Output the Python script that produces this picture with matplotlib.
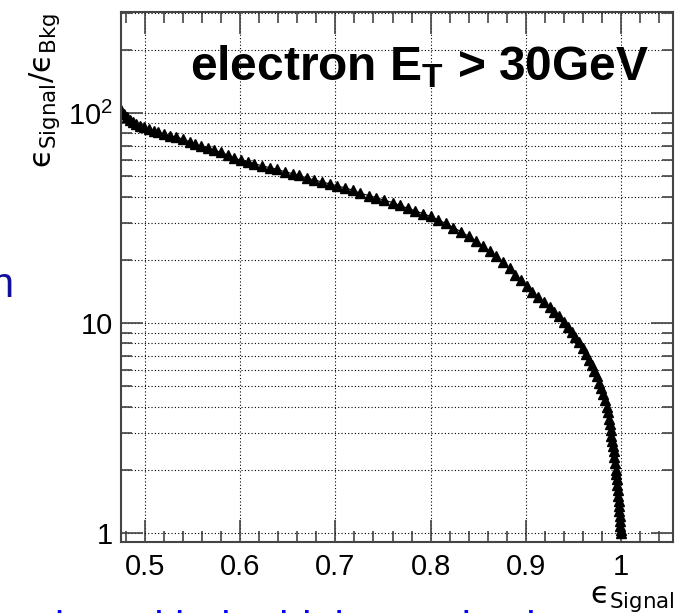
import matplotlib.pyplot as plt
from matplotlib.ticker import MultipleLocator, FixedLocator, FixedFormatter, FuncFormatter, NullFormatter

plt.rcParams['font.family'] = ['Liberation Sans', 'DejaVu Sans']
plt.rcParams['mathtext.fontset'] = 'custom'
plt.rcParams['mathtext.rm'] = 'Liberation Sans'
plt.rcParams['mathtext.it'] = 'Liberation Sans:italic'
plt.rcParams['mathtext.bf'] = 'Liberation Sans:bold'

# signal efficiency vs. signal/background efficiency ratio
eff_signal = [0.475, 0.478, 0.481, 0.484, 0.487, 0.491, 0.495, 0.499, 0.504, 0.509,
              0.514, 0.520, 0.526, 0.533, 0.540, 0.547, 0.553, 0.559, 0.566, 0.573,
              0.580, 0.587, 0.594, 0.601, 0.608, 0.615, 0.623, 0.631, 0.639, 0.647,
              0.655, 0.662, 0.670, 0.678, 0.686, 0.694, 0.702, 0.710, 0.718, 0.726,
              0.735, 0.743, 0.751, 0.760, 0.768, 0.776, 0.784, 0.792, 0.800, 0.808,
              0.816, 0.824, 0.832, 0.840, 0.848, 0.855, 0.862, 0.869, 0.876, 0.883,
              0.889, 0.895, 0.901, 0.907, 0.913, 0.919, 0.925, 0.930, 0.935, 0.940,
              0.944, 0.948, 0.952, 0.956, 0.960, 0.963, 0.966, 0.969, 0.972, 0.975,
              0.977, 0.979, 0.981, 0.983, 0.985, 0.986, 0.987, 0.988, 0.989, 0.990,
              0.991, 0.992, 0.9925, 0.993, 0.994, 0.9945, 0.995, 0.9955, 0.996, 0.9965,
              0.997, 0.9975, 0.998, 0.9983, 0.9986, 0.9989, 0.9992, 0.9995, 0.9998]
sig_over_bkg = [103, 99, 96, 93, 91, 89, 87, 85.5, 84, 82.5,
                81, 79.5, 78, 77, 75, 73, 71, 69.5, 68, 66.5,
                65, 63, 61, 59.5, 58.5, 57.5, 56, 55, 54, 52.5,
                51.5, 50.5, 49, 48, 47, 46, 45, 44, 43, 41.5,
                40.5, 39.5, 38.5, 37.5, 36.3, 35.2, 34.2, 33.2, 32.2, 31,
                29.8, 28.5, 27.2, 25.9, 24.6, 23.3, 22.0, 20.8, 19.6, 18.2,
                17.0, 16.0, 15.0, 14.1, 13.3, 12.6, 11.9, 11.3, 10.8, 10.1,
                9.6, 9.1, 8.6, 8.1, 7.6, 7.1, 6.7, 6.3, 5.9, 5.6,
                5.2, 4.9, 4.6, 4.3, 4.0, 3.75, 3.5, 3.3, 3.1, 2.9,
                2.75, 2.6, 2.45, 2.3, 2.15, 2.0, 1.9, 1.8, 1.7, 1.6,
                1.5, 1.42, 1.34, 1.27, 1.2, 1.14, 1.08, 1.03, 1.0]

y_ticks = [1, 10, 100]
y_ticklabels = ['1', '10', r'$10^{2}$']

fig = plt.figure(figsize=(6.77, 6.13), dpi=100)
ax = fig.add_axes([121/677, 71/613, 552/677, 530/613])

ax.plot(eff_signal, sig_over_bkg, color='black', lw=0.8,
        marker='^', ms=7, mfc='black', mec='black')

ax.set_yscale('log')
ax.set_xlim(0.4748, 1.0546)
ax.set_ylim(0.906, 303)

# ROOT-like axes
ax.xaxis.set_major_locator(MultipleLocator(0.1))
ax.xaxis.set_minor_locator(MultipleLocator(0.02))
ax.xaxis.set_major_formatter(FuncFormatter(lambda v, p: '%g' % round(v, 2)))
ax.yaxis.set_major_locator(FixedLocator(y_ticks))
ax.yaxis.set_major_formatter(FixedFormatter(y_ticklabels))
ax.yaxis.set_minor_locator(FixedLocator([2, 3, 4, 5, 6, 7, 8, 9,
                                         20, 30, 40, 50, 60, 70, 80, 90, 200, 300]))
ax.yaxis.set_minor_formatter(NullFormatter())

ax.tick_params(which='both', direction='in', top=True, right=True,
               color='#444444', width=1.2, labelsize=21)
ax.tick_params(which='major', length=16)
ax.tick_params(which='minor', length=8)
ax.tick_params(axis='x', pad=8)
ax.tick_params(axis='y', pad=6)
for s in ax.spines.values():
    s.set_color('#444444')
    s.set_linewidth(1.5)

ax.grid(which='major', axis='x', ls=(0, (1, 2)), color='black', lw=0.8)
ax.grid(which='both', axis='y', ls=(0, (1, 2)), color='black', lw=0.8)

ax.text(0.125, 0.872, r'electron $\mathbf{E_{T}}$ > 30GeV', transform=ax.transAxes,
        fontsize=34.5, fontweight='bold', va='baseline', ha='left')

# axis titles
fig.text(675/677, 1 - 603/613, r'$\mathrm{ϵ}_{\mathrm{Signal}}$', fontsize=22,
         math_fontfamily='dejavusans', ha='right', va='baseline')
fig.text(45/677, 1 - 168/613, r'$\mathrm{ϵ}_{\mathrm{Signal}}/\mathrm{ϵ}_{\mathrm{Bkg}}$',
         fontsize=22, math_fontfamily='dejavusans', rotation=90, ha='center', va='bottom')

# slide text around the chart (mostly cut off)
fig.text(14/677, 1 - 297/613, 'rejection', fontsize=30, color='#10109a',
         ha='right', va='baseline')
fig.text(55/677, -0.045, 'but with the highest rejection', fontsize=30, color='#0000ff',
         ha='left', va='baseline')

fig.savefig('out.png', dpi=100)
